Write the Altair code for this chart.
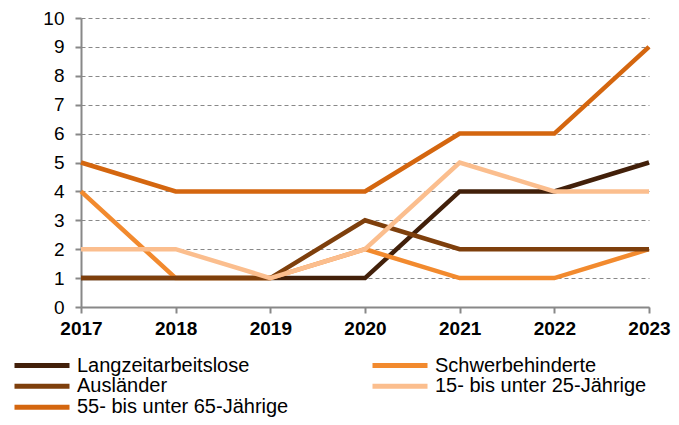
import altair as alt
import pandas as pd

years = ["2017", "2018", "2019", "2020", "2021", "2022", "2023"]
series = [
    "Langzeitarbeitslose",
    "Schwerbehinderte",
    "Ausländer",
    "15- bis unter 25-Jährige",
    "55- bis unter 65-Jährige",
]
values = {
    "Langzeitarbeitslose": [1, 1, 1, 1, 4, 4, 5],
    "Schwerbehinderte": [4, 1, 1, 2, 1, 1, 2],
    "Ausländer": [1, 1, 1, 3, 2, 2, 2],
    "15- bis unter 25-Jährige": [2, 2, 1, 2, 5, 4, 4],
    "55- bis unter 65-Jährige": [5, 4, 4, 4, 6, 6, 9],
}
colors = {
    "Langzeitarbeitslose": "#42200a",
    "Schwerbehinderte": "#f28a2e",
    "Ausländer": "#7e3f0c",
    "15- bis unter 25-Jährige": "#fbbe8e",
    "55- bis unter 65-Jährige": "#d4660f",
}
# legend is filled column by column: left column first, then right column
legend_order = [
    "Langzeitarbeitslose",
    "Ausländer",
    "55- bis unter 65-Jährige",
    "Schwerbehinderte",
    "15- bis unter 25-Jährige",
]

rows = []
for i, s in enumerate(series):
    for y, v in zip(years, values[s]):
        rows.append({"Jahr": y, "Wert": v, "Reihe": s, "idx": i})
df = pd.DataFrame(rows)

font = "Liberation Sans"

chart = (
    alt.Chart(df)
    .mark_line(strokeWidth=4.5, strokeCap="butt", strokeJoin="miter")
    .encode(
        x=alt.X(
            "Jahr:O",
            scale=alt.Scale(padding=0),
            axis=alt.Axis(
                title=None,
                labelAngle=0,
                labelFont=font,
                labelFontSize=19,
                labelFontWeight="bold",
                labelColor="#000000",
                labelPadding=6,
                domainColor="#888888",
                domainWidth=2,
                tickColor="#888888",
                tickWidth=2,
                tickSize=6,
                grid=False,
            ),
        ),
        y=alt.Y(
            "Wert:Q",
            scale=alt.Scale(domain=[0, 10], nice=False),
            axis=alt.Axis(
                title=None,
                values=list(range(0, 11)),
                labelFont=font,
                labelFontSize=19,
                labelColor="#000000",
                labelPadding=11,
                domainColor="#888888",
                domainWidth=2,
                tickColor="#888888",
                tickWidth=2,
                tickSize=6,
                grid=True,
                gridColor="#888888",
                gridDash=[4, 3],
                gridWidth=1,
            ),
        ),
        color=alt.Color(
            "Reihe:N",
            scale=alt.Scale(domain=legend_order, range=[colors[s] for s in legend_order]),
            legend=alt.Legend(
                title=None,
                orient="none",
                legendX=-69,
                legendY=337,
                columns=2,
                columnPadding=81,
                rowPadding=0,
                clipHeight=20.5,
                padding=0,
                symbolType="stroke",
                symbolSize=3025,
                symbolStrokeWidth=5,
                labelFont=font,
                labelFontSize=20,
                labelColor="#000000",
                labelOffset=5,
                labelLimit=400,
            ),
        ),
        order=alt.Order("idx:Q"),
    )
    .properties(
        width=568,
        height=289,
        autosize=alt.AutoSizeParams(type="none"),
        padding={"left": 73, "top": 10, "right": 22, "bottom": 110},
    )
    .configure_view(stroke=None)
)

chart.save("out.html", embed_options={"renderer": "svg", "actions": False})
